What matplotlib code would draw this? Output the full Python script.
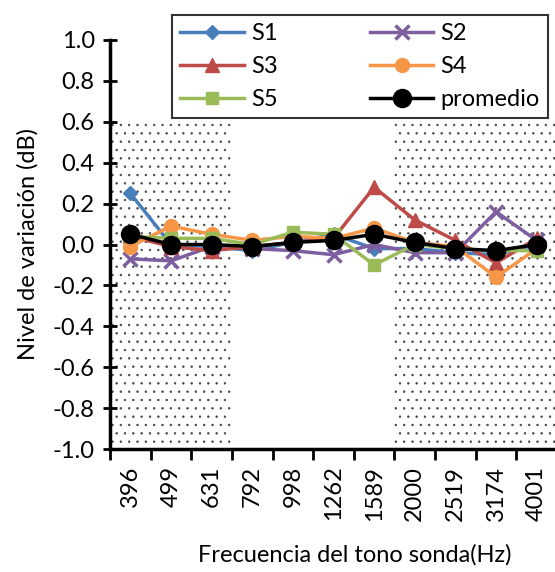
import numpy as np
import matplotlib
matplotlib.use("Agg")
import matplotlib.pyplot as plt

plt.rcParams['font.family'] = ['Lato', 'DejaVu Sans']
plt.rcParams['hatch.linewidth'] = 0.5

# frecuencias del tono sonda (Hz)
freqs = ['396', '499', '631', '792', '998', '1262', '1589', '2000', '2519', '3174', '4001']

s1 = [0.25, 0.00, -0.01, -0.03, 0.01, 0.05, -0.02, -0.02, -0.04, -0.05, 0.00]
s2 = [-0.07, -0.08, -0.01, -0.02, -0.03, -0.05, 0.00, -0.04, -0.04, 0.16, 0.02]
s3 = [0.04, -0.01, -0.03, -0.01, 0.01, 0.03, 0.28, 0.12, 0.02, -0.09, 0.03]
s4 = [-0.01, 0.09, 0.05, 0.02, 0.04, 0.03, 0.08, 0.01, -0.01, -0.16, -0.02]
s5 = [0.04, 0.03, 0.03, 0.00, 0.06, 0.05, -0.10, 0.00, -0.02, -0.03, -0.03]
promedio = [0.05, 0.00, 0.00, -0.01, 0.01, 0.02, 0.05, 0.01, -0.02, -0.03, 0.00]

yticks = [-1.0, -0.8, -0.6, -0.4, -0.2, 0.0, 0.2, 0.4, 0.6, 0.8, 1.0]
ylabels = ['-1.0', '-0.8', '-0.6', '-0.4', '-0.2', '0.0', '0.2', '0.4', '0.6', '0.8', '1.0']

x = np.arange(len(freqs))
fs = 17

fig = plt.figure(figsize=(5.55, 5.72), dpi=100)
ax = fig.add_axes([110/555, 123/572, 447/555, 409/572])

# zonas punteadas (baja y alta frecuencia)
ax.fill_between([-0.5, 2.5], -1.0, 0.6, facecolor='none', edgecolor='#444444',
                linewidth=0, hatch='..', zorder=0)
ax.fill_between([6.5, 10.5], -1.0, 0.6, facecolor='none', edgecolor='#444444',
                linewidth=0, hatch='..', zorder=0)

lw = 2.5
l1, = ax.plot(x, s1, color='#4a7ebb', marker='D', ms=7, lw=lw, label='S1')
l2, = ax.plot(x, s2, color='#7d5fa0', marker='x', ms=10, mew=2.5, lw=lw, label='S2')
l3, = ax.plot(x, s3, color='#be4b48', marker='^', ms=10, lw=lw, label='S3')
l4, = ax.plot(x, s4, color='#f79646', marker='o', ms=10, lw=lw, label='S4')
l5, = ax.plot(x, s5, color='#9bbb59', marker='s', ms=8, lw=lw, label='S5')
lp, = ax.plot(x, promedio, color='black', marker='o', ms=13, lw=lw, label='promedio')

ax.set_xlim(-0.5, 10.5)
ax.set_ylim(-1.0, 1.0)
ax.set_yticks(yticks)
ax.set_yticklabels(ylabels, fontsize=fs)
ax.set_xticks(x)
ax.set_xticklabels(freqs, rotation=90, fontsize=fs)
ax.set_xticks(np.arange(-0.5, 10.6, 1.0), minor=True)
ax.tick_params(axis='x', which='major', length=0, pad=12)
ax.tick_params(axis='x', which='minor', length=8, width=2, direction='out')
ax.tick_params(axis='y', which='major', length=10, width=2, direction='inout', pad=6)

for side in ['top', 'right']:
    ax.spines[side].set_visible(False)
for side in ['left', 'bottom']:
    ax.spines[side].set_linewidth(2.5)

ax.set_ylabel('Nivel de variación (dB)', fontsize=fs, labelpad=10)
fig.text(355/555, 1 - 555/572, 'Frecuencia del tono sonda(Hz)', fontsize=fs,
         ha='center', va='center')

leg = fig.legend([l1, l3, l5, l2, l4, lp], ['S1', 'S3', 'S5', 'S2', 'S4', 'promedio'],
                 ncol=2, loc='upper left', mode='expand',
                 bbox_to_anchor=(172/555, 1 - 117/572, 376/555, 102/572),
                 fontsize=fs, frameon=True, fancybox=False, handlelength=2.7,
                 borderaxespad=0, labelspacing=0.5, handletextpad=0.3,
                 borderpad=0.35)
leg.get_frame().set_edgecolor('black')
leg.get_frame().set_linewidth(1.5)

fig.savefig('out.png', dpi=100)
